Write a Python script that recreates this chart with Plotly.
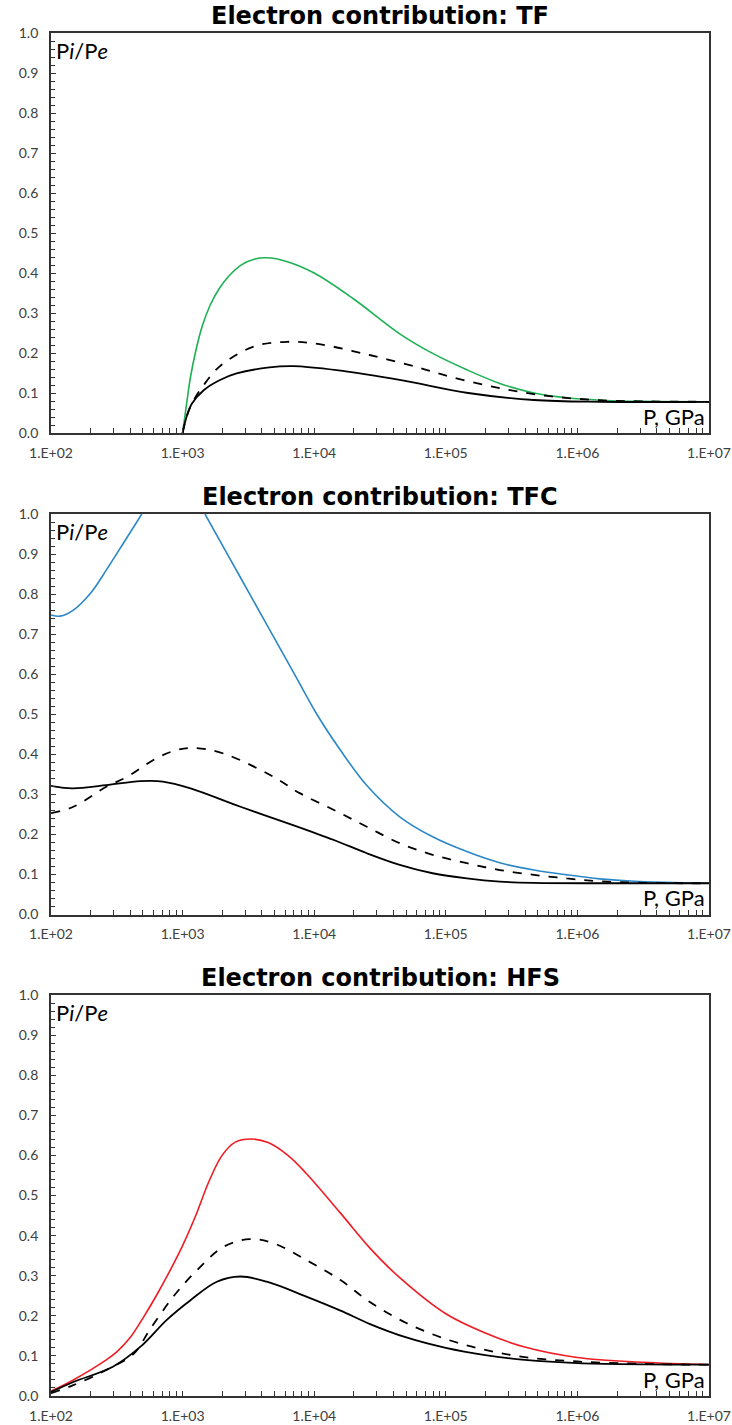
import plotly.graph_objects as go

# ---------------- data (log10 of P in GPa, and Pi/Pe) ----------------
tf_green_logp = [3.0, 3.03, 3.06, 3.1, 3.15, 3.21, 3.28, 3.35, 3.45, 3.55, 3.64, 3.79, 4.0, 4.3, 4.65, 4.9, 5.16, 5.41, 5.67, 5.92, 6.17, 6.5, 7.0]
tf_green = [0.0, 0.072, 0.14, 0.205, 0.268, 0.32, 0.362, 0.392, 0.421, 0.435, 0.438, 0.429, 0.40, 0.335, 0.248, 0.199, 0.158, 0.124, 0.100, 0.088, 0.082, 0.079, 0.078]
tf_dash_logp = [3.0, 3.04, 3.09, 3.15, 3.28, 3.54, 3.79, 4.04, 4.42, 4.8, 5.03, 5.41, 5.79, 6.17, 6.5, 7.0]
tf_dash = [0.0, 0.05, 0.085, 0.115, 0.166, 0.216, 0.228, 0.222, 0.195, 0.163, 0.141, 0.112, 0.092, 0.082, 0.079, 0.078]
tf_solid_logp = [3.0, 3.03, 3.07, 3.16, 3.28, 3.41, 3.66, 3.84, 4.17, 4.66, 5.17, 5.67, 6.17, 7.0]
tf_solid = [0.0, 0.04, 0.073, 0.107, 0.132, 0.149, 0.164, 0.167, 0.157, 0.132, 0.10, 0.0825, 0.078, 0.078]

tfc_blue_logp = [2.0, 2.07, 2.17, 2.3, 2.42, 2.55, 2.69, 2.93, 3.17, 3.34, 3.51, 3.68, 3.85, 4.02, 4.2, 4.4, 4.65, 4.9, 5.16, 5.41, 5.67, 5.92, 6.17, 6.43, 7.0]
tfc_blue = [0.748, 0.745, 0.76, 0.802, 0.86, 0.927, 1.0, None, 1.0, 0.9, 0.8, 0.7, 0.6, 0.5, 0.41, 0.322, 0.244, 0.194, 0.157, 0.129, 0.111, 0.099, 0.089, 0.083, 0.078]
tfc_dash_logp = [2.0, 2.17, 2.42, 2.58, 2.8, 2.95, 3.08, 3.31, 3.69, 3.89, 4.15, 4.4, 4.65, 4.9, 5.16, 5.41, 5.67, 5.92, 6.17, 6.5, 7.0]
tfc_dash = [0.253, 0.269, 0.319, 0.344, 0.39, 0.41, 0.416, 0.402, 0.344, 0.303, 0.261, 0.219, 0.178, 0.149, 0.128, 0.111, 0.099, 0.090, 0.083, 0.079, 0.078]
tfc_solid_logp = [2.0, 2.1, 2.17, 2.42, 2.68, 2.85, 3.06, 3.44, 3.85, 4.15, 4.4, 4.65, 4.9, 5.16, 5.41, 5.67, 6.2, 7.0]
tfc_solid = [0.321, 0.316, 0.315, 0.323, 0.333, 0.332, 0.315, 0.269, 0.222, 0.186, 0.153, 0.124, 0.103, 0.090, 0.082, 0.079, 0.078, 0.078]

hfs_red_logp = [2.0, 2.17, 2.42, 2.5, 2.6, 2.7, 2.8, 2.9, 3.0, 3.1, 3.2, 3.3, 3.4, 3.52, 3.65, 3.8, 3.94, 4.2, 4.42, 4.65, 5.0, 5.3, 5.6, 6.0, 6.5, 7.0]
hfs_red = [0.012, 0.04, 0.09, 0.11, 0.145, 0.195, 0.25, 0.31, 0.375, 0.45, 0.535, 0.6, 0.633, 0.641, 0.632, 0.6, 0.555, 0.456, 0.37, 0.295, 0.205, 0.157, 0.122, 0.096, 0.084, 0.078]
hfs_dash_logp = [2.0, 2.17, 2.42, 2.63, 2.75, 2.93, 3.11, 3.31, 3.51, 3.69, 3.94, 4.2, 4.42, 4.7, 5.0, 5.3, 5.6, 6.0, 6.5, 7.0]
hfs_dash = [0.007, 0.027, 0.065, 0.106, 0.165, 0.248, 0.314, 0.372, 0.391, 0.381, 0.339, 0.289, 0.235, 0.182, 0.142, 0.115, 0.097, 0.086, 0.08, 0.078]
hfs_solid_logp = [2.0, 2.17, 2.47, 2.68, 2.88, 3.06, 3.26, 3.44, 3.64, 3.94, 4.2, 4.42, 4.7, 5.0, 5.3, 5.6, 6.0, 7.0]
hfs_solid = [0.01, 0.035, 0.073, 0.123, 0.19, 0.239, 0.285, 0.298, 0.285, 0.248, 0.213, 0.18, 0.146, 0.12, 0.102, 0.09, 0.082, 0.078]

panel_titles = ["Electron contribution: TF", "Electron contribution: TFC", "Electron contribution: HFS"]
x_tick_labels = ["1.E+02", "1.E+03", "1.E+04", "1.E+05", "1.E+06", "1.E+07"]
y_tick_labels = ["0.0", "0.1", "0.2", "0.3", "0.4", "0.5", "0.6", "0.7", "0.8", "0.9", "1.0"]

GREEN = "#1db154"
BLUE = "#2b88c8"
RED = "#ee1c24"
FONT = "Lato"
TITLE_FONT = "DejaVu Sans"

W, H = 732, 1425
X0, X1 = 51, 709
panels_px = [(33, 433), (514, 914.5), (995, 1396)]


def p(v):
    return [10 ** a for a in v]


panels = [
    [(tf_green_logp, tf_green, GREEN, "solid", 1.6),
     (tf_dash_logp, tf_dash, "black", "dash", 1.8),
     (tf_solid_logp, tf_solid, "black", "solid", 1.8)],
    [(tfc_blue_logp, tfc_blue, BLUE, "solid", 1.6),
     (tfc_dash_logp, tfc_dash, "black", "dash", 1.8),
     (tfc_solid_logp, tfc_solid, "black", "solid", 1.8)],
    [(hfs_red_logp, hfs_red, RED, "solid", 1.6),
     (hfs_dash_logp, hfs_dash, "black", "dash", 1.8),
     (hfs_solid_logp, hfs_solid, "black", "solid", 1.8)],
]

fig = go.Figure()

# x tick positions: all 1..9 multiples of each decade
xtickvals = []
xticktext = []
for d in range(2, 8):
    for m in range(1, 10):
        if d == 7 and m > 1:
            break
        xtickvals.append(m * 10 ** d)
        xticktext.append(x_tick_labels[d - 2] if m == 1 else "")

for i, (series, (top, bot)) in enumerate(zip(panels, panels_px)):
    n = "" if i == 0 else str(i + 1)
    xa, ya = "x" + n, "y" + n
    for lx, yy, col, dash, w in series:
        fig.add_trace(go.Scatter(x=p(lx), y=yy, mode="lines", xaxis=xa, yaxis=ya,
                                 line=dict(color=col, dash=dash, width=w, shape="spline", smoothing=1.0),
                                 connectgaps=False, showlegend=False, hoverinfo="skip"))
    dom_y = [1 - bot / H, 1 - top / H]
    axis_common = dict(showline=True, linecolor="#333333", linewidth=1.8, mirror=True,
                       showgrid=False, zeroline=False, ticks="inside", tickcolor="#333333",
                       automargin=False, ticklabeloverflow="allow",
                       tickfont=dict(family=FONT, size=14, color="#404040"))
    fig.layout["xaxis" + n] = dict(axis_common, type="log", range=[2, 7], domain=[X0 / W, X1 / W],
                                   anchor=ya, tickmode="array", tickvals=xtickvals, ticktext=xticktext,
                                   ticklen=5, tickwidth=1.2, ticklabelstandoff=6)
    fig.layout["yaxis" + n] = dict(axis_common, range=[0, 1], domain=dom_y, anchor=xa,
                                   tickmode="array", tickvals=[k / 10 for k in range(11)],
                                   ticktext=y_tick_labels, ticklen=5, tickwidth=1.2, ticklabelstandoff=8,
                                   minor=dict(ticks="inside", dtick=0.02, ticklen=4, tickcolor="#333333", tickwidth=1))
    # title
    fig.add_annotation(text="<b>" + panel_titles[i] + "</b>", xref="paper", yref="paper",
                       x=(X0 + X1) / 2 / W, y=1 - (top - 17) / H, xanchor="center", yanchor="middle",
                       showarrow=False, font=dict(family=TITLE_FONT, size=24, color="black"))
    # y label
    fig.add_annotation(text="P<i>i</i>/P<i>e</i>", xref="paper", yref="paper",
                       x=(X0 + 3) / W, y=1 - (top + 2) / H, xanchor="left", yanchor="top",
                       showarrow=False, font=dict(family=FONT, size=22, color="black"))
    # x label
    fig.add_annotation(text="P, GPa", xref="paper", yref="paper",
                       x=(X1 - 2) / W, y=1 - (bot - 1) / H, xanchor="right", yanchor="bottom",
                       showarrow=False, font=dict(family=FONT, size=22, color="black"))

fig.update_layout(template="none", width=W, height=H, margin=dict(l=0, r=0, t=0, b=0),
                  plot_bgcolor="white", paper_bgcolor="white")

fig.write_html("out.html")
